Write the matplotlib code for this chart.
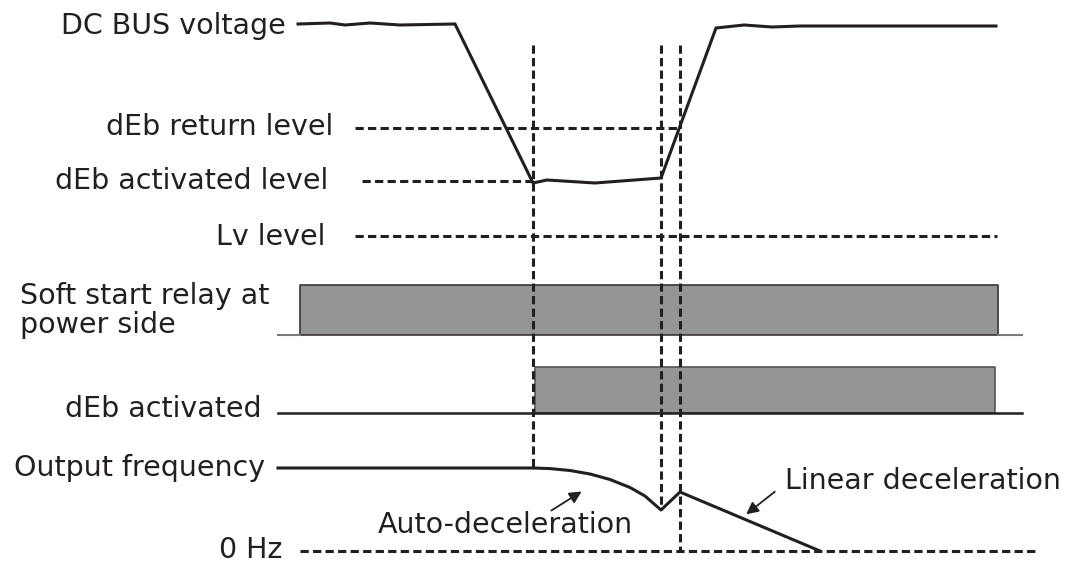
import matplotlib.pyplot as plt

# canvas units follow the drawing (x to the right, y downwards)
W, H = 1078, 564

# DC BUS voltage trace
dc_x = [298, 330, 345, 370, 400, 455, 533, 547, 595, 661, 716, 744, 772, 800, 996]
dc_y = [24, 23, 25, 23, 25, 24, 183, 180, 183, 178, 28, 25, 27, 26, 26]

# dashed reference levels: (y, x_start, x_end)
level_y = {'return': 128, 'activated': 181, 'lv': 236, 'zero': 551}
level_span = {'return': (355, 680), 'activated': (362, 533), 'lv': (355, 997), 'zero': (300, 1035)}

# vertical event markers: x and lower end
event_x = [533, 661, 680]
event_bottom = [468, 510, 551]
event_top = 45

# relay / dEb status bars: (x_start, x_end, y_top, y_bottom)
soft_bar = (300, 998, 285, 335)
soft_base = [(278, 300), (998, 1022)]
deb_bar = (535, 995, 367, 413)
deb_base = (278, 1022)

# output frequency trace
freq_x = [278, 533, 550, 570, 590, 610, 630, 645, 661, 680, 820]
freq_y = [468, 468, 468.6, 470.5, 474, 479.5, 487.5, 496, 510, 492, 551]

LINE = '#231f20'
FILL = '#959595'
lw = 2.2
dash = (2.7, 1.4)

fig = plt.figure(figsize=(W / 100, H / 100), dpi=100)
ax = fig.add_axes([0, 0, 1, 1])
ax.set_xlim(0, W)
ax.set_ylim(H, 0)
ax.axis('off')

# dashed levels
for k in level_y:
    x0, x1 = level_span[k]
    ax.plot([x0, x1], [level_y[k], level_y[k]], color=LINE, lw=lw, dashes=dash)

# dashed verticals
for x, yb in zip(event_x, event_bottom):
    ax.plot([x, x], [event_top, yb], color=LINE, lw=lw, dashes=dash)

# bars
x0, x1, yt, yb = soft_bar
ax.fill_between([x0, x1], yt, yb, facecolor=FILL, edgecolor='#3a3536', lw=1.2)
for a, b in soft_base:
    ax.plot([a, b], [yb, yb], color='#7a7a7a', lw=1.5)
x0, x1, yt, yb = deb_bar
ax.fill_between([x0, x1], yt, yb, facecolor=FILL, edgecolor='#5a5556', lw=1.2)
ax.plot(deb_base, [yb, yb], color=LINE, lw=1.8)

# solid traces
ax.plot(dc_x, dc_y, color=LINE, lw=lw, solid_joinstyle='miter')
ax.plot(freq_x, freq_y, color=LINE, lw=lw, solid_joinstyle='round')

# arrows
ax.annotate('', xy=(584, 490), xytext=(549, 512),
            arrowprops=dict(arrowstyle='-|>', color=LINE, lw=1.3, mutation_scale=18))
ax.annotate('', xy=(744, 516), xytext=(777, 490),
            arrowprops=dict(arrowstyle='-|>', color=LINE, lw=1.3, mutation_scale=18))

# labels
fs = 20.5
txt = dict(color=LINE, fontsize=fs, va='baseline')
ax.text(286, 34, 'DC BUS voltage', ha='right', **txt)
ax.text(333, 135, 'dEb return level', ha='right', **txt)
ax.text(328, 189, 'dEb activated level', ha='right', **txt)
ax.text(325, 245, 'Lv level', ha='right', **txt)
ax.text(20, 304, 'Soft start relay at', ha='left', **txt)
ax.text(20, 333, 'power side', ha='left', **txt)
ax.text(262, 417, 'dEb activated', ha='right', **txt)
ax.text(265, 476, 'Output frequency', ha='right', **txt)
ax.text(282, 558, '0 Hz', ha='right', **txt)
ax.text(378, 533, 'Auto-deceleration', ha='left', **txt)
ax.text(785, 489, 'Linear deceleration', ha='left', **txt)

fig.savefig('out.png', dpi=100)
